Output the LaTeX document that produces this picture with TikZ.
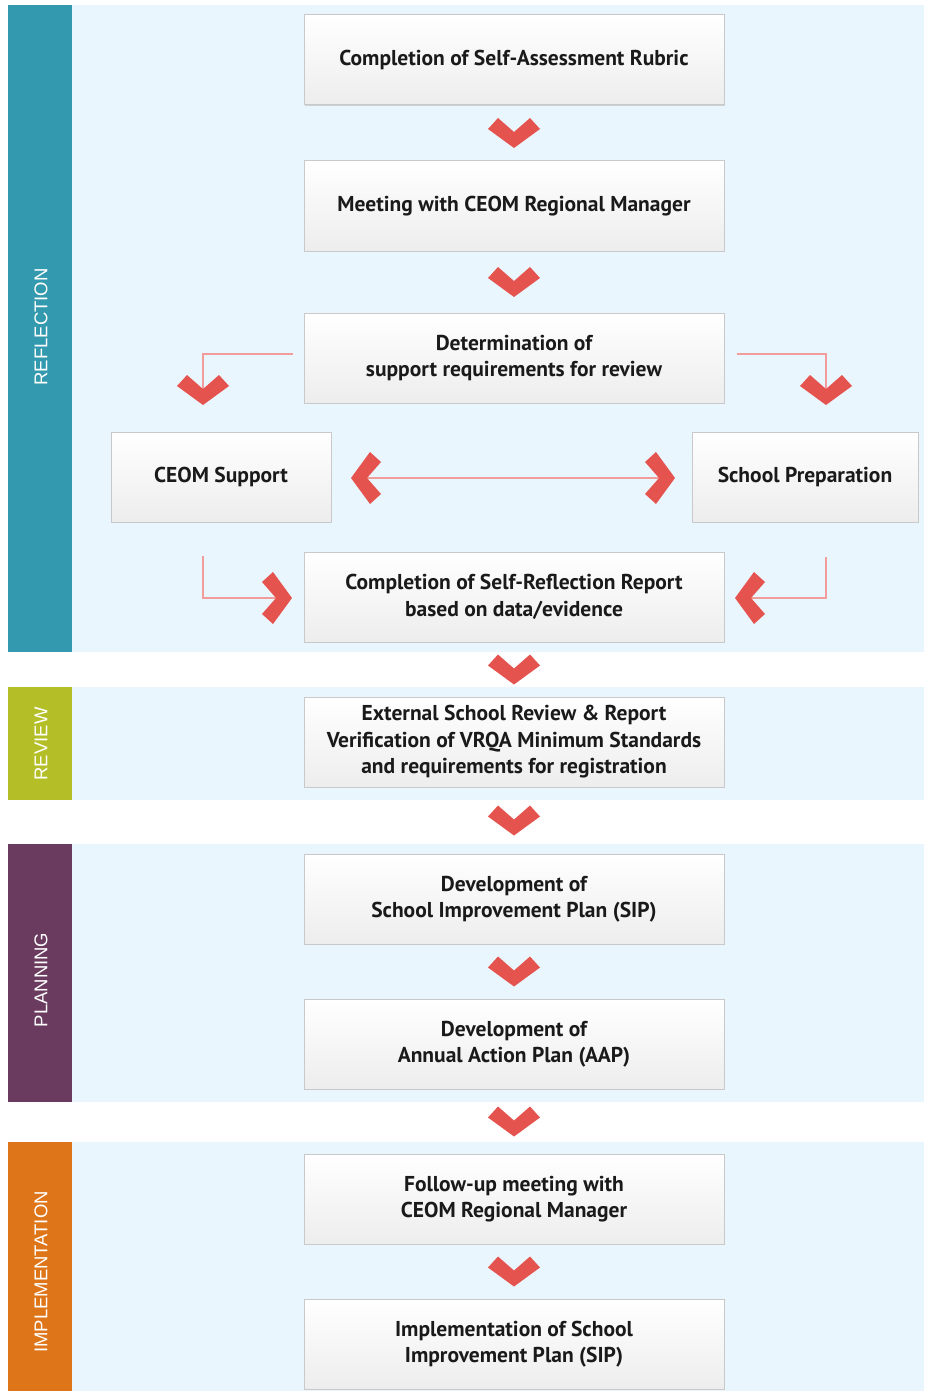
\documentclass[tikz,border=0pt]{standalone}
\usepackage{fontspec}
\setmainfont{PT Sans}
\newfontfamily\bandfont{Liberation Sans}
\usetikzlibrary{shadows,calc}
\definecolor{refl}{HTML}{3399AE}
\definecolor{revw}{HTML}{B4BF27}
\definecolor{plan}{HTML}{6A3B5E}
\definecolor{impl}{HTML}{DE7519}
\definecolor{lightbg}{HTML}{EAF6FD}
\definecolor{boxborder}{HTML}{C9C9C9}
\definecolor{boxbottom}{HTML}{EDEDED}
\definecolor{textcol}{HTML}{1A1A1A}
\definecolor{chevred}{HTML}{E5534F}
\definecolor{linkred}{HTML}{F29D9B}
\tikzset{
  chevdown/.pic={\fill[chevred] (0,15)--(-26,-4)--(-16,-15)--(0,-1)--(16,-15)--(26,-4)--cycle;},
  chevright/.pic={\fill[chevred] (15,0)--(-4,-26)--(-15,-16)--(-1,0)--(-15,16)--(-4,26)--cycle;},
  chevleft/.pic={\fill[chevred] (-15,0)--(4,-26)--(15,-16)--(1,0)--(15,16)--(4,26)--cycle;},
}
\begin{document}
\begin{tikzpicture}[x=1pt,y=-1pt,
  box/.style={draw=boxborder, line width=1pt, top color=white, bottom color=boxbottom,
    minimum width=420pt, minimum height=90pt, inner sep=0pt, align=center,
    font=\fontsize{21.5}{26.5}\selectfont\bfseries, text=textcol,
    drop shadow={shadow xshift=0.6pt, shadow yshift=-1.4pt, opacity=0.35, fill=black!45}},
  link/.style={draw=linkred, line width=2pt},
  bandlabel/.style={text=white, font=\bandfont\fontsize{18.5}{20}\selectfont, rotate=90, inner sep=0pt}
]
\useasboundingbox (0,0) rectangle (924,1391);
\fill[white] (0,0) rectangle (924,1391);
% bands
\fill[lightbg] (72,5) rectangle (924,652);
\fill[refl] (8,5) rectangle (72,652);
\fill[lightbg] (72,687) rectangle (924,800);
\fill[revw] (8,687) rectangle (72,800);
\fill[lightbg] (72,844) rectangle (924,1102);
\fill[plan] (8,844) rectangle (72,1102);
\fill[lightbg] (72,1142) rectangle (924,1391);
\fill[impl] (8,1142) rectangle (72,1391);
\node[bandlabel] (lrefl) at (41,327) {REFLECTION};
\node[bandlabel] (lrev) at (41,744) {REVIEW};
\node[bandlabel] (lplan) at (41,980) {PLANNING};
\node[bandlabel] (limpl) at (41,1272) {IMPLEMENTATION};
% boxes
\node[box] (b1) at (514,60) {Completion of Self-Assessment Rubric};
\node[box] (b2) at (514,206) {Meeting with CEOM Regional Manager};
\node[box] (b3) at (514,358) {Determination of\\support requirements for review};
\node[box, minimum width=220pt] (ceom) at (221,477) {CEOM Support};
\node[box, minimum width=226pt] (school) at (805,477) {School Preparation};
\node[box] (b5) at (514,597) {Completion of Self-Reflection Report\\based on data/evidence};
\node[box] (rev) at (514,742) {External School Review \& Report\\Verification of VRQA Minimum Standards\\and requirements for registration};
\node[box] (sip) at (514,899) {Development of\\School Improvement Plan (SIP)};
\node[box] (aap) at (514,1044) {Development of\\Annual Action Plan (AAP)};
\node[box] (fol) at (514,1199) {Follow-up meeting with\\CEOM Regional Manager};
\node[box] (imp) at (514,1344) {Implementation of School\\Improvement Plan (SIP)};
% main chevrons
\pic at ($(b1.south)!0.5!(b2.north)$) {chevdown};
\pic at ($(b2.south)!0.5!(b3.north)$) {chevdown};
\pic at ($(b5.south)!0.5!(rev.north)$) {chevdown};
\pic at ($(rev.south)!0.5!(sip.north)$) {chevdown};
\pic at ($(sip.south)!0.5!(aap.north)$) {chevdown};
\pic at ($(aap.south)!0.5!(fol.north)$) {chevdown};
\pic at ($(fol.south)!0.5!(imp.north)$) {chevdown};
% side connectors
\coordinate (cl) at (203,390);
\coordinate (cr) at (826,390);
\coordinate (dl) at (366,478);
\coordinate (dr) at (660,478);
\coordinate (sl) at (203,556);
\coordinate (sr) at (826,557);
\coordinate (el) at (277,598);
\coordinate (er) at (750,598);
\draw[link] ([xshift=-11pt,yshift=4pt]b3.west) -| (cl);
\draw[link] ([xshift=12pt,yshift=4pt]b3.east) -| (cr);
\draw[link] (dl) -- (dr);
\draw[link] (sl) |- (el);
\draw[link] (sr) |- (er);
\pic at (cl) {chevdown};
\pic at (cr) {chevdown};
\pic at (dl) {chevleft};
\pic at (dr) {chevright};
\pic at (el) {chevright};
\pic at (er) {chevleft};
\end{tikzpicture}
\end{document}
